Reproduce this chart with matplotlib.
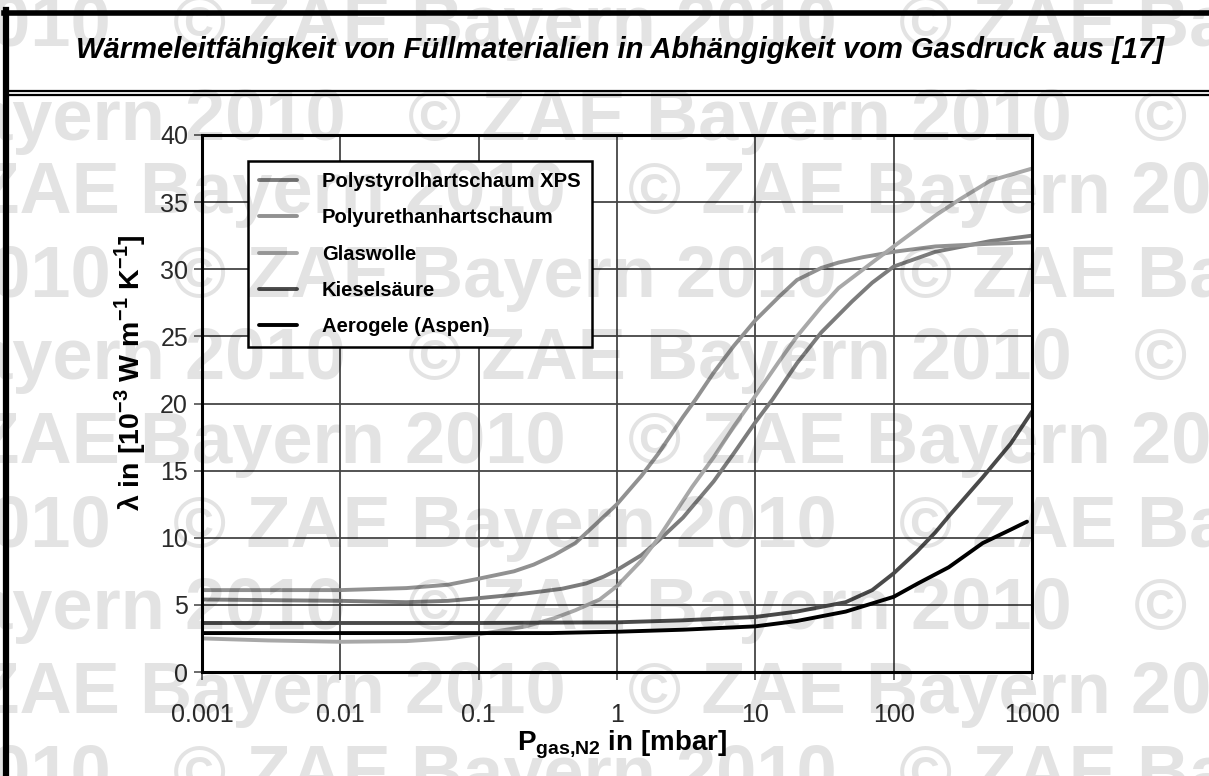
import matplotlib
matplotlib.use("Agg")
import matplotlib.pyplot as plt
from matplotlib.lines import Line2D

plt.rcParams['font.family'] = ['Liberation Sans', 'DejaVu Sans']
plt.rcParams['mathtext.fontset'] = 'custom'
plt.rcParams['mathtext.rm'] = 'Liberation Sans'
plt.rcParams['mathtext.bf'] = 'Liberation Sans:bold'

# ---------------- data ----------------
title = "Wärmeleitfähigkeit von Füllmaterialien in Abhängigkeit vom Gasdruck aus [17]"
series_names = ["Polystyrolhartschaum XPS", "Polyurethanhartschaum", "Glaswolle",
                "Kieselsäure", "Aerogele (Aspen)"]

p_ps = [0.001, 0.01, 0.03, 0.06, 0.1, 0.2, 0.4, 0.6, 0.8, 1, 1.5, 2, 3, 5, 7, 10, 13.3,
        20, 30, 50, 70, 100, 200, 500, 1000]
lam_ps = [5.4, 5.3, 5.2, 5.3, 5.5, 5.8, 6.2, 6.6, 7.1, 7.6, 8.7, 9.8, 11.5, 14.2, 16.3,
          18.6, 20.3, 23.0, 25.3, 27.6, 29.0, 30.2, 31.3, 32.1, 32.5]

p_pu = [0.001, 0.01, 0.03, 0.06, 0.1, 0.18, 0.25, 0.35, 0.5, 0.7, 1, 1.5, 2, 3, 3.7, 5,
        7, 10, 15, 20, 30, 40, 60, 100, 200, 500, 1000]
lam_pu = [6.1, 6.1, 6.25, 6.5, 6.95, 7.5, 8.0, 8.7, 9.6, 11.0, 12.5, 14.6, 16.3, 19.0,
          20.3, 22.3, 24.3, 26.2, 28.0, 29.2, 30.1, 30.5, 30.9, 31.3, 31.7, 31.9, 32.0]

p_gw = [0.001, 0.003, 0.01, 0.03, 0.06, 0.1, 0.22, 0.35, 0.5, 0.75, 1, 1.5, 2, 3.5, 5,
        7, 9.6, 15, 20, 30, 40, 70, 100, 200, 300, 500, 1000]
lam_gw = [2.5, 2.35, 2.25, 2.3, 2.5, 2.8, 3.4, 4.0, 4.6, 5.4, 6.4, 8.3, 10.0, 13.8, 16.0,
          18.3, 20.3, 23.2, 25.0, 27.2, 28.6, 30.5, 31.7, 34.0, 35.2, 36.6, 37.5]

p_ks = [0.001, 0.01, 0.1, 1, 3, 10, 20, 45, 70, 100, 145, 200, 250, 440, 700, 1000]
lam_ks = [3.65, 3.65, 3.65, 3.7, 3.85, 4.1, 4.5, 5.2, 6.1, 7.35, 8.9, 10.4, 11.6, 14.5,
          17.0, 19.4]

p_ag = [0.001, 0.01, 0.1, 0.33, 1, 3, 10, 20, 45, 100, 150, 250, 440, 700, 920]
lam_ag = [2.9, 2.9, 2.9, 2.9, 3.0, 3.15, 3.4, 3.8, 4.5, 5.6, 6.6, 7.8, 9.6, 10.6, 11.2]

x_ticks = [0.001, 0.01, 0.1, 1, 10, 100, 1000]
x_ticklabels = ["0.001", "0.01", "0.1", "1", "10", "100", "1000"]
y_ticks = [0, 5, 10, 15, 20, 25, 30, 35, 40]

watermark = "© ZAE Bayern 2010"

# ---------------- figure ----------------
W, H = 1209, 776
fig = plt.figure(figsize=(W / 100, H / 100), dpi=100)
fig.patch.set_facecolor('white')

def fx(px):
    return px / W

def fy(py):
    return 1 - py / H

# frame: left border, top border, double line under title
fig.add_artist(Line2D([fx(6), fx(6)], [fy(10), fy(H + 5)], color='black', lw=4.5,
                      transform=fig.transFigure))
fig.add_artist(Line2D([fx(4), fx(W + 5)], [fy(12.5), fy(12.5)], color='black', lw=4,
                      transform=fig.transFigure))
fig.add_artist(Line2D([fx(8), fx(W + 5)], [fy(91), fy(91)], color='black', lw=1.6,
                      transform=fig.transFigure))
fig.add_artist(Line2D([fx(8), fx(W + 5)], [fy(95), fy(95)], color='black', lw=1.6,
                      transform=fig.transFigure))

fig.text(fx(620), fy(50), title, ha='center', va='center', fontsize=21,
         fontweight='bold', fontstyle='italic', color='black')

ax = fig.add_axes([fx(202), fy(672), fx(1032) - fx(202), fy(135) - fy(672)])
ax.set_facecolor('none')
ax.set_xscale('log')
ax.set_xlim(0.001, 1000)
ax.set_ylim(0, 40)

colors = ['#7c7c7c', '#919191', '#a8a8a8', '#4a4a4a', '#000000']
lw = 2.8
lines = []
for (p, lam), c in zip([(p_ps, lam_ps), (p_pu, lam_pu), (p_gw, lam_gw),
                        (p_ks, lam_ks), (p_ag, lam_ag)], colors):
    ln, = ax.plot(p, lam, color=c, lw=lw, solid_capstyle='round',
                  solid_joinstyle='round', zorder=3)
    lines.append(ln)

ax.set_xticks(x_ticks)
ax.set_xticklabels(x_ticklabels)
ax.xaxis.set_minor_locator(matplotlib.ticker.NullLocator())
ax.set_yticks(y_ticks)
ax.tick_params(axis='both', labelsize=18, labelcolor='#2a2a2a', color='#505050',
               length=6, width=1.2, direction='out')
ax.tick_params(axis='x', pad=16)
ax.tick_params(axis='y', pad=4)
ax.grid(True, which='major', color='#454545', lw=1.3, zorder=1)
for s in ax.spines.values():
    s.set_color('black')
    s.set_linewidth(2.2)
    s.set_zorder(4)

fig.text(fx(130), fy(373), r"λ in [10$^{\mathbf{-3}}$ W m$^{\mathbf{-1}}$ K$^{\mathbf{-1}}$]",
         rotation=90, ha='center', va='center', fontsize=20.5, fontweight='bold')
fig.text(fx(622), fy(745), r"P$_{\mathbf{gas{,}N2}}$ in [mbar]",
         ha='center', va='center', fontsize=20, fontweight='bold')

leg = ax.legend(lines, series_names, loc='upper left',
                bbox_to_anchor=((248 - 202) / 830, (672 - 161) / 537),
                borderaxespad=0, frameon=True, fancybox=False, shadow=False,
                prop={'weight': 'bold', 'size': 14.6}, handlelength=1.85,
                handletextpad=1.25, labelspacing=0.85, borderpad=0.55)
leg.get_frame().set_edgecolor('black')
leg.get_frame().set_linewidth(1.8)
leg.get_frame().set_facecolor('white')
leg.get_frame().set_alpha(1)
leg.set_zorder(5)

# watermark (light multiply-like overlay), three-row diagonal tiling
row_y = [20, 114, 187, 271, 353, 437, 521, 603, 687, 770]
row_phase = [173, 408, 628]
period = 726
for i, yy in enumerate(row_y):
    ph = row_phase[i % 3]
    x0 = ph - 2 * period
    while x0 < W + 50:
        fig.text(fx(x0), fy(yy + 26), watermark, ha='left', va='baseline', fontsize=52,
                 fontweight='bold', color='black', alpha=0.11, zorder=20)
        x0 += period

fig.savefig("out.png", dpi=100, facecolor='white')
